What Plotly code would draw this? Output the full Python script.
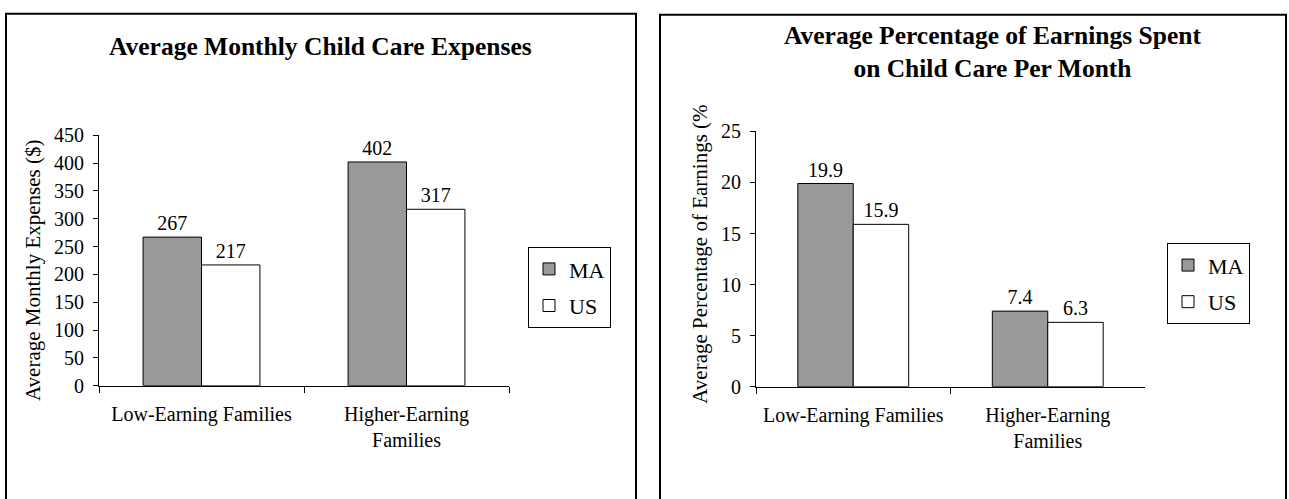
import plotly.graph_objects as go

categories = ["Low-Earning Families", "Higher-Earning<br>Families"]
series_names = ["MA", "US"]
expenses_ma = [267, 402]
expenses_us = [217, 317]
pct_ma = [19.9, 7.4]
pct_us = [15.9, 6.3]

W, H = 1289, 499
FONT = "Liberation Serif, Times New Roman, serif"
GRAY = "#999999"

def px(x):
    return x / W

def py(y):
    return 1 - y / H

fig = go.Figure()

colors = [GRAY, "white"]
for name, vals, col in zip(series_names, [expenses_ma, expenses_us], colors):
    fig.add_trace(go.Bar(
        x=categories, y=vals, name=name, legendgroup=name,
        marker=dict(color=col, line=dict(color="black", width=1)),
        text=[str(v) for v in vals], textposition="outside",
        textfont=dict(size=20, color="black", family=FONT),
        cliponaxis=False, xaxis="x", yaxis="y", legend="legend",
    ))
for name, vals, col in zip(series_names, [pct_ma, pct_us], colors):
    fig.add_trace(go.Bar(
        x=categories, y=vals, name=name, legendgroup=name,
        marker=dict(color=col, line=dict(color="black", width=1)),
        text=[f"{v:.1f}" for v in vals], textposition="outside",
        textfont=dict(size=20, color="black", family=FONT),
        cliponaxis=False, xaxis="x2", yaxis="y2", legend="legend2",
    ))

axis_common = dict(
    showline=True, linecolor="black", linewidth=1, showgrid=False,
    zeroline=False, ticks="outside", tickcolor="black",
    tickfont=dict(size=20, color="black", family=FONT),
)

legend_common = dict(
    bordercolor="black", borderwidth=1, bgcolor="white",
    font=dict(size=22, color="black", family=FONT),
    xanchor="left", yanchor="top", tracegroupgap=5,
)

fig.update_layout(
    width=W, height=H,
    margin=dict(l=0, r=0, t=0, b=0),
    paper_bgcolor="white", plot_bgcolor="white",
    barmode="group", bargap=0.43, bargroupgap=0,
    font=dict(family=FONT, color="black"),
    xaxis=dict(domain=[px(99), px(509)], anchor="y", type="category",
               tickson="boundaries", ticklen=6, ticklabelstandoff=10,
               **axis_common),
    yaxis=dict(domain=[py(392), py(130)], anchor="x", range=[0, 450],
               dtick=50, ticklen=5, ticklabelstandoff=5, **axis_common),
    xaxis2=dict(domain=[px(756), px(1145)], anchor="y2", type="category",
                tickson="boundaries", ticklen=6, ticklabelstandoff=10,
                **axis_common),
    yaxis2=dict(domain=[py(393), py(126)], anchor="x2", range=[0, 25],
                dtick=5, ticklen=5, ticklabelstandoff=5, **axis_common),
    legend=dict(x=px(528), y=py(247), **legend_common),
    legend2=dict(x=px(1167), y=py(243), **legend_common),
    showlegend=True,
)

# panel borders
fig.add_shape(type="rect", xref="paper", yref="paper",
              x0=px(6), x1=px(636), y0=-0.05, y1=py(3),
              line=dict(color="black", width=2), fillcolor="rgba(0,0,0,0)", layer="below")
fig.add_shape(type="rect", xref="paper", yref="paper",
              x0=px(660), x1=px(1286), y0=-0.05, y1=py(4),
              line=dict(color="black", width=2), fillcolor="rgba(0,0,0,0)", layer="below")

# titles
fig.add_annotation(text="<b>Average Monthly Child Care Expenses</b>",
                   xref="paper", yref="paper", x=px(320), y=py(37),
                   showarrow=False, font=dict(size=25.5, family=FONT, color="black"),
                   xanchor="center", yanchor="middle")
fig.add_annotation(text="<b>Average Percentage of Earnings Spent<br>on Child Care Per Month</b>",
                   xref="paper", yref="paper", x=px(992), y=py(43),
                   showarrow=False, font=dict(size=25.5, family=FONT, color="black"),
                   xanchor="center", yanchor="middle")

# y-axis titles
fig.add_annotation(text="Average Monthly Expenses ($)",
                   xref="paper", yref="paper", x=px(33), y=py(272),
                   showarrow=False, textangle=-90,
                   font=dict(size=21, family=FONT, color="black"),
                   xanchor="center", yanchor="middle")
fig.add_annotation(text="Average Percentage of Earnings (%",
                   xref="paper", yref="paper", x=px(700), y=py(255),
                   showarrow=False, textangle=-90,
                   font=dict(size=21, family=FONT, color="black"),
                   xanchor="center", yanchor="middle")

fig.write_html("out.html", config={"displayModeBar": False},
               post_script="document.body.style.margin='0';")
